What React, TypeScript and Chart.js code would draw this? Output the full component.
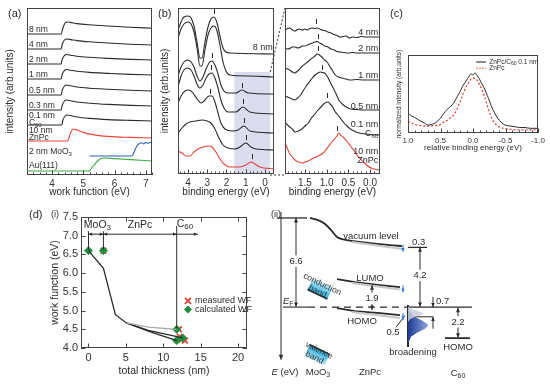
import React, { useEffect, useRef } from "react";
import { Chart, registerables } from "chart.js";

Chart.register(...registerables);

type Pt = [number, number];
const FONT = "'Liberation Sans', Arial, Helvetica, sans-serif";
const INK = "#2b2b2b";
const RED = "#e4433a";
const BLUE = "#2f5fb3";
const GREEN = "#3aa845";
const DGREEN = "#1d8f3c";

// ---------------- (a) secondary electron cut-off ----------------
const aTicks = [4, 5, 6, 7];
const aC60_8nm: Pt[] = [[3.2,141],[4.3,141],[4.34,146],[4.4,151],[4.47,153],[4.58,152.6],[4.8,151.4],[5.2,150.2],[5.8,149],[6.5,147.8],[7.2,146.8]];
const aC60_4nm: Pt[] = [[3.2,126],[4.29,126],[4.33,131],[4.4,135],[4.47,136],[4.6,135.4],[4.8,134.4],[5.2,133.2],[5.8,132],[6.5,130.8],[7.2,130]];
const aC60_2nm: Pt[] = [[3.2,111],[4.29,111],[4.33,116],[4.4,119.5],[4.46,120.5],[4.6,119.8],[4.8,118.8],[5.2,117.7],[5.8,116.6],[6.5,115.6],[7.2,115]];
const aC60_1nm: Pt[] = [[3.2,96],[4.29,96],[4.33,101],[4.4,104.5],[4.46,105.5],[4.6,104.8],[4.8,103.8],[5.2,102.6],[5.8,101.6],[6.5,100.6],[7.2,100]];
const aC60_05nm: Pt[] = [[3.2,80],[4.29,80],[4.33,85],[4.4,89],[4.46,90],[4.6,89.2],[4.8,88],[5.2,86.8],[5.8,85.8],[6.5,84.8],[7.2,84]];
const aC60_03nm: Pt[] = [[3.2,65],[4.29,65],[4.33,70],[4.4,74],[4.46,75],[4.6,74.2],[4.8,73],[5.2,71.8],[5.8,70.6],[6.5,69.6],[7.2,69]];
const aC60_01nm: Pt[] = [[3.2,50],[4.31,50],[4.35,55],[4.42,59],[4.48,60],[4.62,59.2],[4.8,58],[5.2,56.6],[5.8,55.4],[6.5,54.6],[7.2,54]];
const aZnPc: Pt[] = [[3.2,34],[4.5,34],[4.55,38],[4.62,44],[4.7,46],[4.8,45],[5.0,42.6],[5.3,40.4],[5.8,38.6],[6.5,37.6],[7.2,37]];
const aMoO3: Pt[] = [[5.2,19],[6.55,19],[6.6,21],[6.66,25.5],[6.73,29.5],[6.8,31.5],[6.87,32.2],[6.94,31],[7.0,32.8],[7.07,31.6],[7.13,32.8],[7.2,32.2]];
const aAu: Pt[] = [[3.2,4],[5.2,4],[5.26,6.5],[5.36,10.5],[5.46,14],[5.56,16.4],[5.66,17],[6.0,16.4],[6.5,15.4],[7.2,14]];

// ---------------- (b) valence band spectra ----------------
const bTicks = [4, 3, 2, 1, 0];
const b8nm: Pt[] = [[4.52,144],[4.36,152],[4.21,157],[4.0,158],[3.84,156],[3.69,148],[3.53,132],[3.38,116],[3.27,116],[3.12,132],[2.96,147],[2.81,155],[2.65,157],[2.49,151],[2.34,138],[2.18,126],[2.03,122],[1.82,121],[-0.47,120]];
const b4nm: Pt[] = [[4.52,136],[4.36,145],[4.21,150],[4.0,152],[3.84,150],[3.69,142],[3.53,126],[3.38,108],[3.27,108],[3.12,124],[2.96,139],[2.81,146],[2.65,148],[2.49,143],[2.34,129],[2.18,112],[2.03,103],[1.82,99],[0.78,98],[-0.47,97]];
const b2nm: Pt[] = [[4.52,98],[4.36,107],[4.21,112],[4.0,114],[3.84,112],[3.69,107],[3.53,98],[3.38,93],[3.22,97],[3.06,105],[2.91,111],[2.75,113],[2.6,109],[2.44,100],[2.29,89],[2.13,83],[1.92,81],[1.51,81],[1.19,84],[0.88,81],[-0.47,80]];
const b1nm: Pt[] = [[4.52,87],[4.36,98],[4.21,104],[4.0,106],[3.84,104],[3.69,98],[3.53,90],[3.38,86],[3.22,89],[3.06,96],[2.91,100],[2.75,101],[2.6,96],[2.44,86],[2.29,74],[2.13,66],[1.92,62],[1.51,62],[1.14,67],[0.78,62],[-0.47,60]];
const b05nm: Pt[] = [[4.52,71],[4.36,78],[4.16,83],[3.95,84],[3.74,81],[3.53,75],[3.32,71],[3.12,74],[2.91,78],[2.75,78],[2.6,72],[2.44,61],[2.29,51],[2.08,45],[1.71,43],[1.4,44],[1.09,48],[0.78,43],[-0.47,41]];
const b01nm: Pt[] = [[4.52,41],[4.31,46],[4.1,50],[3.9,52],[3.58,53],[3.27,54],[3.01,53],[2.81,51],[2.6,45],[2.39,36],[2.18,29],[1.92,26],[1.56,25],[1.3,27],[0.99,31],[0.73,27],[0.47,25],[-0.47,24]];
const bZnPc: Pt[] = [[4.52,23],[4.31,21],[4.1,18],[3.9,18],[3.69,22],[3.48,25],[3.22,27],[2.96,28],[2.75,27],[2.55,22],[2.34,15],[2.13,10],[1.82,7],[1.3,7],[0.99,9],[0.73,12],[0.52,10],[0.26,7],[-0.47,5]];
const bMarksHigh: Pt[] = [[2.65,160],[2.75,116],[2.8,104],[2.85,80]];
const bMarksLow: Pt[] = [[1.19,86],[1.14,70],[1.09,51],[0.99,34],[0.68,15]];
const bShade = { from: 1.6, to: -0.27, top: 102 };

const brTicks = [1.5, 1.0, 0.5, 0.0];
const br4nm: Pt[] = [[1.96,144],[1.9,145.5],[1.85,146],[1.79,144],[1.73,143],[1.67,144.5],[1.62,145],[1.56,144],[1.5,145],[1.44,144],[1.39,145.5],[1.33,146],[1.27,145.5],[1.22,146],[1.16,145],[1.11,144],[1.05,143.5],[0.97,142],[0.9,141],[0.83,139.5],[0.76,138.5],[0.69,137],[0.62,137.5],[0.55,138],[0.48,136],[0.4,137],[0.3,136.5],[0.2,137.5],[0.1,137],[0,137],[-0.1,137],[-0.23,137]];
const br2nm: Pt[] = [[1.96,126],[1.9,125],[1.85,125.5],[1.79,127],[1.73,127],[1.67,126],[1.62,126.5],[1.56,128],[1.5,128],[1.44,129],[1.39,130],[1.33,131],[1.27,132],[1.22,132.5],[1.16,131],[1.11,130],[1.05,128],[0.97,127],[0.9,125],[0.83,124],[0.76,122.5],[0.69,122],[0.6,121.5],[0.5,121],[0.4,121.5],[0.3,121],[0.2,121],[0,121],[-0.23,121]];
const br1nm: Pt[] = [[1.96,106],[1.9,105],[1.85,104],[1.79,102],[1.73,101],[1.67,103],[1.62,105],[1.56,108],[1.5,110],[1.44,112],[1.39,114],[1.33,116],[1.27,118],[1.22,120],[1.17,119],[1.11,117],[1.05,114],[0.99,112],[0.92,107],[0.86,103],[0.8,99],[0.73,97],[0.65,96],[0.55,95],[0.45,94],[0.3,94.5],[0.15,94],[0,94],[-0.23,94]];
const br05nm: Pt[] = [[1.96,78],[1.9,77],[1.85,76],[1.79,75],[1.73,74],[1.67,76],[1.6,79],[1.53,84],[1.47,88],[1.4,92],[1.33,96],[1.27,99],[1.2,101],[1.15,102],[1.1,101.5],[1.05,101],[0.99,98],[0.92,92],[0.85,86],[0.78,80],[0.72,74],[0.64,70],[0.55,67],[0.45,65],[0.3,64.5],[0.15,64],[0,64],[-0.23,64]];
const br01nm: Pt[] = [[1.96,52],[1.9,49],[1.85,47],[1.79,45],[1.73,42],[1.65,43],[1.57,45],[1.5,48],[1.42,51],[1.35,56],[1.27,60],[1.2,64],[1.13,67],[1.07,70],[1.02,71.5],[0.97,72],[0.92,70],[0.86,67],[0.8,62],[0.74,59],[0.67,55],[0.6,51],[0.53,48],[0.45,45],[0.37,43],[0.25,41],[0.1,40],[0,39.5],[-0.23,39]];
const brZnPc: Pt[] = [[1.96,32],[1.9,25],[1.85,20],[1.79,17],[1.73,14],[1.65,12],[1.57,11],[1.5,12],[1.42,13],[1.34,15],[1.25,17],[1.15,19],[1.08,21],[1.02,24],[0.95,28],[0.88,32],[0.82,35],[0.76,38],[0.73,41],[0.68,39],[0.6,36],[0.52,32],[0.45,28],[0.38,24],[0.3,19],[0.22,15],[0.13,11],[0.05,8],[-0.05,5.5],[-0.13,4.5],[-0.23,4]];
const brMarks: Pt[] = [[1.24,150],[1.2,135],[1.2,123],[1.11,104],[0.99,76],[0.76,43]];

// ---------------- (c) normalized HOMO ----------------
const cTicks = [1.0, 0.5, 0.0, -0.5, -1.0];
const cBlend: Pt[] = [[1.0,0.26],[0.95,0.22],[0.9,0.2],[0.84,0.17],[0.8,0.15],[0.75,0.13],[0.69,0.1],[0.64,0.11],[0.6,0.12],[0.55,0.15],[0.5,0.19],[0.45,0.25],[0.4,0.3],[0.36,0.33],[0.32,0.36],[0.28,0.41],[0.24,0.47],[0.2,0.53],[0.16,0.6],[0.12,0.65],[0.08,0.7],[0.05,0.74],[0.03,0.76],[0.0,0.74],[-0.03,0.77],[-0.06,0.74],[-0.1,0.69],[-0.13,0.64],[-0.17,0.58],[-0.2,0.52],[-0.24,0.44],[-0.28,0.35],[-0.33,0.26],[-0.38,0.19],[-0.43,0.14],[-0.5,0.1],[-0.57,0.09],[-0.65,0.08],[-0.72,0.07],[-0.8,0.07],[-0.88,0.06],[-1.0,0.06]];
const cZnPc: Pt[] = [[1.0,0.15],[0.9,0.11],[0.84,0.1],[0.75,0.09],[0.69,0.09],[0.6,0.095],[0.53,0.1],[0.45,0.14],[0.4,0.16],[0.34,0.2],[0.3,0.23],[0.25,0.3],[0.22,0.36],[0.18,0.44],[0.14,0.53],[0.1,0.6],[0.06,0.66],[0.02,0.7],[0.0,0.705],[-0.03,0.7],[-0.07,0.67],[-0.1,0.62],[-0.13,0.57],[-0.17,0.48],[-0.2,0.41],[-0.25,0.27],[-0.3,0.17],[-0.35,0.11],[-0.41,0.075],[-0.5,0.055],[-0.6,0.045],[-0.8,0.04],[-1.0,0.04]];

// ---------------- (d)(i) work function vs thickness ----------------
const dxTicks = [0, 5, 10, 15, 20];
const dyTicks = [4.0, 4.5, 5.0, 5.5, 6.0, 6.5, 7.0, 7.5];
const calcPathMain: Pt[] = [[0,6.6],[2,6.13],[3.6,4.89],[5.07,4.67],[8,4.45],[11.8,4.2]];
const calcPathB: Pt[] = [[5.07,4.67],[8,4.47],[12.6,4.27]];
const calcPathC: Pt[] = [[5.07,4.67],[8,4.56],[11.8,4.5]];
const calcWF: Pt[] = [[0,6.6],[2,6.6],[11.8,4.5],[11.8,4.2],[12.6,4.27]];
const measWF: Pt[] = [[2,6.6],[12.1,4.5],[12.2,4.3],[12.4,4.22],[12.9,4.2]];

// ---------------- (d)(ii) energy level diagram (position, eV) ----------------
const vacMoO3: Pt[] = [[277,6.6],[307,6.6]];
const vacZnPc: Pt[] = [[310,6.6],[318,6.44],[325,6.15],[332,5.63],[337,5.19],[342,5.04],[353,4.89],[370,4.74],[390,4.59],[402,4.52]];
const lumoZnPc: Pt[] = [[337,2.07],[355,1.85],[380,1.63],[400,1.48]];
const homoZnPc: Pt[] = [[337,-0.07],[355,-0.3],[380,-0.44],[400,-0.59]];
const vacShadow: Pt[] = [[352,4.82],[402,4.3]];
const lumoShadow: Pt[] = [[352,1.78],[400,1.3]];
const homoShadow: Pt[] = [[352,-0.36],[400,-0.8]];
const fermiSolidL: Pt[] = [[283,0],[308,0]];
const fermiDash: Pt[] = [[308,0],[405,0]];
const fermiSolidR: Pt[] = [[405,0],[472,0]];
const vacC60: Pt[] = [[408,4.42],[427,4.42]];
const homoC60: Pt[] = [[445,-2.3],[470,-2.3]];
const onsetC60: Pt[] = [[408,-0.72],[433,-0.72]];
const dosAxis: Pt[] = [[408,0.15],[408,-2.95]];
const dosBroad: Pt[] = [[0.1,0],[-0.3,0.08],[-0.7,0.3],[-1.0,0.7],[-1.25,0.97],[-1.4,1.0],[-1.6,0.85],[-1.9,0.45],[-2.2,0.15],[-2.6,0.03],[-2.9,0]];
const dosSharp: Pt[] = [[0.05,0],[-0.15,0.2],[-0.3,0.6],[-0.45,0.9],[-0.55,0.85],[-0.7,0.45],[-0.9,0.12],[-1.1,0]];

// ---------------- helpers ----------------
const P = (a: Pt[]) => a.map(([x, y]) => ({ x, y }));
function line(data: Pt[], color: string, width = 1.1, extra: any = {}) {
  return { data: P(data), borderColor: color, backgroundColor: color, borderWidth: width, pointRadius: 0, showLine: true, fill: false, cubicInterpolationMode: "monotone", ...extra };
}
function straight(data: Pt[], color: string, width = 1.6, extra: any = {}) {
  return { data: P(data), borderColor: color, backgroundColor: color, borderWidth: width, pointRadius: 0, showLine: true, fill: false, tension: 0, ...extra };
}
function tx(ctx: any, s: string, x: number, y: number, size = 9, align: any = "left", color = INK, opts: any = {}) {
  ctx.save();
  ctx.font = `${opts.italic ? "italic " : ""}${size}px ${FONT}`;
  ctx.textAlign = align;
  ctx.textBaseline = "middle";
  if (opts.bg) {
    const w = ctx.measureText(s).width;
    const x0 = align === "center" ? x - w / 2 : align === "right" ? x - w : x;
    ctx.fillStyle = "#fff";
    ctx.fillRect(x0 - 1, y - size / 2 - 1, w + 2, size + 2);
  }
  ctx.fillStyle = color;
  ctx.fillText(s, x, y);
  ctx.restore();
}
function rich(ctx: any, segs: any[], x: number, y: number, size: number, align = "left", color = INK) {
  ctx.save();
  ctx.textBaseline = "middle";
  ctx.textAlign = "left";
  ctx.fillStyle = color;
  const f = (sg: any) => `${sg[2] ? "italic " : ""}${sg[1] ? Math.round(size * 0.72) : size}px ${FONT}`;
  let w = 0;
  segs.forEach((sg) => { ctx.font = f(sg); w += ctx.measureText(sg[0]).width; });
  let cx = align === "center" ? x - w / 2 : align === "right" ? x - w : x;
  segs.forEach((sg) => { ctx.font = f(sg); ctx.fillText(sg[0], cx, y + (sg[1] ? size * 0.3 : 0)); cx += ctx.measureText(sg[0]).width; });
  ctx.restore();
}
function seg(ctx: any, x1: number, y1: number, x2: number, y2: number) {
  ctx.beginPath(); ctx.moveTo(x1, y1); ctx.lineTo(x2, y2); ctx.stroke();
}
function head(ctx: any, x: number, y: number, dir: string, s = 2.6) {
  const a = s * 0.75, b = s * 1.7;
  ctx.beginPath();
  if (dir === "down") { ctx.moveTo(x, y); ctx.lineTo(x - a, y - b); ctx.lineTo(x + a, y - b); }
  else if (dir === "up") { ctx.moveTo(x, y); ctx.lineTo(x - a, y + b); ctx.lineTo(x + a, y + b); }
  else if (dir === "right") { ctx.moveTo(x, y); ctx.lineTo(x - b, y - a); ctx.lineTo(x - b, y + a); }
  else { ctx.moveTo(x, y); ctx.lineTo(x + b, y - a); ctx.lineTo(x + b, y + a); }
  ctx.closePath(); ctx.fill();
}
function vArrow(ctx: any, x: number, yTop: number, yBot: number, top = true, bot = true, s = 2.6) {
  seg(ctx, x, yTop, x, yBot);
  if (top) head(ctx, x, yTop, "up", s);
  if (bot) head(ctx, x, yBot, "down", s);
}
function hArrow(ctx: any, x1: number, x2: number, y: number, left = true, right = true, s = 2.4) {
  seg(ctx, x1, y, x2, y);
  if (left) head(ctx, x1, y, "left", s);
  if (right) head(ctx, x2, y, "right", s);
}

function frame(o: any) {
  return {
    id: "frameTicks",
    afterDatasetsDraw(chart: any) {
      const { ctx, chartArea: a, scales } = chart;
      ctx.save();
      ctx.strokeStyle = "#444";
      ctx.lineWidth = 1;
      ctx.strokeRect(a.left + 0.5, a.top + 0.5, a.width - 1, a.height - 1);
      const xs = scales.x;
      const lo = Math.min(xs.min, xs.max), hi = Math.max(xs.min, xs.max);
      if (o.xMinor) {
        for (let v = Math.ceil(lo / o.xMinor - 1e-9) * o.xMinor; v <= hi + 1e-9; v += o.xMinor) {
          const p = Math.round(xs.getPixelForValue(v)) + 0.5;
          seg(ctx, p, a.bottom, p, a.bottom - 2.5);
        }
      }
      (o.xMajor || []).forEach((v: number) => {
        const p = Math.round(xs.getPixelForValue(v)) + 0.5;
        seg(ctx, p, a.bottom, p, a.bottom - 4.5);
        if (o.top) seg(ctx, p, a.top, p, a.top + 4.5);
      });
      (o.yMajor || []).forEach((v: number) => {
        const p = Math.round(scales.y.getPixelForValue(v)) + 0.5;
        seg(ctx, a.left, p, a.left + 4.5, p);
        if (o.right) seg(ctx, a.right, p, a.right - 4.5, p);
      });
      ctx.restore();
    },
  };
}
function decor(id: string, after: (c: any, X: any, Y: any) => void, before?: (c: any, X: any, Y: any) => void) {
  const xy = (chart: any) => [(v: number) => chart.scales.x.getPixelForValue(v), (v: number) => chart.scales.y.getPixelForValue(v)];
  return {
    id,
    beforeDatasetsDraw(chart: any) {
      if (!before) return;
      const [X, Y] = xy(chart);
      chart.ctx.save(); before(chart, X, Y); chart.ctx.restore();
    },
    afterDraw(chart: any) {
      const [X, Y] = xy(chart);
      chart.ctx.save(); after(chart, X, Y); chart.ctx.restore();
    },
  };
}
function xAxis(min: number, max: number, ticks: number[], o: any) {
  return {
    type: "linear", min, max, reverse: !!o.reverse, position: "bottom",
    afterBuildTicks: (s: any) => { s.ticks = ticks.map((v) => ({ value: v })); },
    afterFit: (s: any) => { s.height = o.height; },
    grid: { display: false, drawTicks: false },
    border: { display: false },
    ticks: { autoSkip: false, maxRotation: 0, padding: o.pad, color: "#333", font: { family: FONT, size: o.size }, callback: o.fmt || ((v: any) => String(v)) },
    title: { display: true, text: o.title, color: INK, font: { family: FONT, size: o.tSize }, padding: { top: 0, bottom: o.tPad } },
  };
}
function yAxis(min: number, max: number, o: any) {
  const ax: any = {
    type: "linear", min, max, position: "left",
    afterFit: (s: any) => { s.width = o.width; },
    grid: { display: false, drawTicks: false },
    border: { display: false },
    ticks: { display: false },
    title: { display: !!o.title, text: o.title, color: INK, font: { family: FONT, size: o.tSize }, padding: { top: o.tPad, bottom: 0 } },
  };
  if (o.ticks) {
    ax.afterBuildTicks = (s: any) => { s.ticks = o.ticks.map((v: number) => ({ value: v })); };
    ax.ticks = { display: true, autoSkip: false, padding: o.pad, color: "#333", font: { family: FONT, size: o.size }, callback: o.fmt };
  }
  return ax;
}
function base(padding: any, scales: any) {
  return {
    animation: false, responsive: false, maintainAspectRatio: false, devicePixelRatio: 1, events: [],
    layout: { padding },
    plugins: { legend: { display: false }, tooltip: { enabled: false } },
    scales,
  };
}
const markStroke = (ctx: any, X: any, Y: any, marks: Pt[]) => {
  ctx.strokeStyle = INK; ctx.lineWidth = 1;
  marks.forEach(([e, y]) => seg(ctx, Math.round(X(e)) + 0.5, Y(y), Math.round(X(e)) + 0.5, Y(y) - 5));
};

// ---------------- chart configs ----------------
function cfgA() {
  const labels = (c: any, X: any, Y: any) => {
    const ctx = c.ctx, s = 8.5, x = X(3.26);
    tx(ctx, "8 nm", x, Y(145), s); tx(ctx, "4 nm", x, Y(130), s); tx(ctx, "2 nm", x, Y(115), s);
    tx(ctx, "1 nm", x, Y(100), s); tx(ctx, "0.5 nm", x, Y(84), s); tx(ctx, "0.3 nm", x, Y(69), s);
    tx(ctx, "0.1 nm", x, Y(59), s); rich(ctx, [["C", 0], ["60", 1]], x, Y(52.5), s);
    tx(ctx, "10 nm", x, Y(44), s); tx(ctx, "ZnPc", x, Y(37.5), s);
    rich(ctx, [["2 nm MoO", 0], ["3", 1]], x, Y(23), s);
    tx(ctx, "Au(111)", x, Y(9.5), s);
  };
  return {
    type: "scatter",
    data: { datasets: [
      line(aC60_8nm, INK), line(aC60_4nm, INK), line(aC60_2nm, INK), line(aC60_1nm, INK),
      line(aC60_05nm, INK), line(aC60_03nm, INK), line(aC60_01nm, INK),
      line(aZnPc, RED), line(aMoO3, BLUE), line(aAu, GREEN),
    ] },
    options: base({ left: 0, top: 8, right: 8, bottom: 0 }, {
      x: xAxis(3.2, 7.2, aTicks, { height: 25, pad: 3, size: 10, title: "work function (eV)", tSize: 10, tPad: 2 }),
      y: yAxis(0, 167, { width: 27, title: "intensity (arb.units)", tSize: 10, tPad: 4 }),
    }),
    plugins: [frame({ xMinor: 0.2, xMajor: aTicks }), decor("aLab", labels)],
  };
}
function cfgB() {
  const before = (c: any, X: any, Y: any) => {
    const ctx = c.ctx;
    ctx.fillStyle = "rgba(196,196,228,0.6)";
    ctx.fillRect(X(bShade.from), Y(bShade.top), X(bShade.to) - X(bShade.from), c.chartArea.bottom - Y(bShade.top));
  };
  const after = (c: any, X: any, Y: any) => {
    const ctx = c.ctx, a = c.chartArea;
    markStroke(ctx, X, Y, bMarksHigh);
    markStroke(ctx, X, Y, bMarksLow);
    tx(ctx, "8 nm", X(-0.4), Y(126), 9, "right");
    ctx.strokeStyle = "#333"; ctx.lineWidth = 1; ctx.setLineDash([2, 2]);
    seg(ctx, X(bShade.to), Y(bShade.top), c.width, a.top);
    seg(ctx, X(bShade.to), a.bottom + 1, c.width, a.bottom + 1);
  };
  return {
    type: "scatter",
    data: { datasets: [
      line(b8nm, INK), line(b4nm, INK), line(b2nm, INK), line(b1nm, INK), line(b05nm, INK), line(b01nm, INK), line(bZnPc, RED),
    ] },
    options: base({ left: 0, top: 8, right: 11, bottom: 0 }, {
      x: xAxis(-0.47, 4.52, bTicks, { reverse: true, height: 26, pad: 3, size: 10, title: "binding energy (eV)", tSize: 10, tPad: 2 }),
      y: yAxis(0, 166, { width: 23, title: "intensity (arb.units)", tSize: 10, tPad: 4 }),
    }),
    plugins: [frame({ xMinor: 0.2, xMajor: bTicks }), decor("bLab", after, before)],
  };
}
function cfgBR() {
  const after = (c: any, X: any, Y: any) => {
    const ctx = c.ctx, s = 9, x = X(-0.19);
    markStroke(ctx, X, Y, brMarks);
    tx(ctx, "4 nm", x, Y(141.5), s, "right"); tx(ctx, "2 nm", x, Y(125), s, "right");
    tx(ctx, "1 nm", x, Y(98.5), s, "right"); tx(ctx, "0.5 nm", x, Y(67.5), s, "right");
    tx(ctx, "0.1 nm", x, Y(49), s, "right"); rich(ctx, [["C", 0], ["60", 1]], x, Y(40), s, "right");
    tx(ctx, "10 nm", x, Y(22), s, "right"); tx(ctx, "ZnPc", x, Y(13.5), s, "right");
  };
  return {
    type: "scatter",
    data: { datasets: [line(br4nm, INK), line(br2nm, INK), line(br1nm, INK), line(br05nm, INK), line(br01nm, INK), line(brZnPc, RED)] },
    options: base({ left: 5, top: 8, right: 5, bottom: 0 }, {
      x: xAxis(-0.23, 1.96, brTicks, { reverse: true, height: 26, pad: 3, size: 10, title: "binding energy (eV)", tSize: 10, tPad: 2, fmt: (v: any) => Number(v).toFixed(1) }),
      y: { type: "linear", min: 0, max: 166, display: false },
    }),
    plugins: [frame({ xMinor: 0.1, xMajor: brTicks }), decor("brLab", after)],
  };
}
function cfgC() {
  const after = (c: any, X: any, Y: any) => {
    const ctx = c.ctx;
    ctx.lineWidth = 1.1; ctx.strokeStyle = INK;
    seg(ctx, X(-0.05), Y(0.91), X(-0.2), Y(0.91));
    rich(ctx, [["ZnPc/C", 0], ["60", 1], [" 0.1 nm", 0]], X(-0.25), Y(0.91), 6.5);
    ctx.strokeStyle = RED; ctx.setLineDash([1.5, 1.5]);
    seg(ctx, X(-0.05), Y(0.83), X(-0.2), Y(0.83));
    tx(ctx, "ZnPc", X(-0.25), Y(0.83), 6.5);
  };
  return {
    type: "scatter",
    data: { datasets: [line(cBlend, INK, 1), line(cZnPc, RED, 1.3, { borderDash: [2, 2] })] },
    options: base({ left: 0, top: 15, right: 12, bottom: 0 }, {
      x: xAxis(-1, 1, cTicks, { reverse: true, height: 22, pad: 3, size: 8, title: "relative binding energy (eV)", tSize: 8, tPad: 2, fmt: (v: any) => Number(v).toFixed(1) }),
      y: yAxis(0, 1, { width: 20, title: "normalized intensity (arb.units)", tSize: 6.5, tPad: 7 }),
    }),
    plugins: [frame({ xMinor: 0.1, xMajor: cTicks }), decor("cLab", after)],
  };
}
function cfgDI() {
  const after = (c: any, X: any, Y: any) => {
    const ctx = c.ctx;
    rich(ctx, [["MoO", 0], ["3", 1]], X(1.2), Y(7.29), 10.5, "center");
    tx(ctx, "ZnPc", X(6.9), Y(7.29), 10.5, "center");
    rich(ctx, [["C", 0], ["60", 1]], X(12.9), Y(7.32), 10.5, "center");
    ctx.strokeStyle = INK; ctx.fillStyle = INK; ctx.lineWidth = 1;
    seg(ctx, X(0), Y(7.12), X(0), Y(6.63));
    seg(ctx, X(2), Y(7.12), X(2), Y(6.63));
    seg(ctx, X(11.8), Y(7.26), X(11.8), Y(4.52));
    hArrow(ctx, X(0), X(2), Y(7.04), true, true, 2.2);
    hArrow(ctx, X(2), X(11.8), Y(7.04), true, true, 2.2);
    hArrow(ctx, X(11.8), X(14.6), Y(7.04), false, true, 2.2);
    // legend
    const lx = X(13.3), y1 = Y(5.26), y2 = Y(5.03);
    ctx.strokeStyle = RED; ctx.lineWidth = 1.8;
    seg(ctx, lx - 3, y1 - 3, lx + 3, y1 + 3); seg(ctx, lx - 3, y1 + 3, lx + 3, y1 - 3);
    ctx.fillStyle = DGREEN;
    ctx.beginPath(); ctx.moveTo(lx, y2 - 4); ctx.lineTo(lx + 4, y2); ctx.lineTo(lx, y2 + 4); ctx.lineTo(lx - 4, y2); ctx.closePath(); ctx.fill();
    tx(ctx, "measured WF", lx + 7, y1, 9);
    tx(ctx, "calculated WF", lx + 7, y2, 9);
  };
  return {
    type: "scatter",
    data: { datasets: [
      straight(calcPathC, "#a8a8a8", 1.2),
      straight(calcPathB, INK, 1.2),
      straight(calcPathMain, INK, 1.3),
      { data: P(calcWF), pointStyle: "rectRot", pointRadius: 4, backgroundColor: DGREEN, borderColor: DGREEN, borderWidth: 1, showLine: false },
      { data: P(measWF), pointStyle: "crossRot", pointRadius: 4, borderColor: RED, borderWidth: 1.8, showLine: false },
    ] },
    options: base({ left: 0, top: 17, right: 13, bottom: 0 }, {
      x: xAxis(-1, 21.2, dxTicks, { height: 37, pad: 3, size: 11, title: "total thickness (nm)", tSize: 10.5, tPad: 8 }),
      y: yAxis(4.0, 7.5, { width: 51, ticks: dyTicks, pad: 3, size: 11, fmt: (v: any) => Number(v).toFixed(1), title: "work function (eV)", tSize: 10.5, tPad: 19 }),
    }),
    plugins: [frame({ xMajor: dxTicks, yMajor: dyTicks, top: true, right: true }), decor("diLab", after)],
  };
}
function cfgDII() {
  const after = (c: any, X: any, Y: any) => {
    const ctx = c.ctx;
    ctx.strokeStyle = INK; ctx.fillStyle = INK; ctx.lineWidth = 1;
    // energy axis
    seg(ctx, X(281), Y(7.05), X(281), Y(-3.9)); head(ctx, X(281), Y(-3.9), "down", 3);
    // gaussians (DOS broadening)
    const g = ctx.createLinearGradient(X(408), 0, X(428), 0);
    g.addColorStop(0, "#1d3a94"); g.addColorStop(1, "#8ea4de");
    ctx.fillStyle = g;
    ctx.beginPath(); ctx.moveTo(X(408), Y(dosBroad[0][0]));
    dosBroad.forEach(([e, i]) => ctx.lineTo(X(408 + i * 20), Y(e)));
    ctx.closePath(); ctx.fill();
    ctx.fillStyle = "rgba(200,205,220,0.85)";
    ctx.beginPath(); ctx.moveTo(X(408), Y(dosSharp[0][0]));
    dosSharp.forEach(([e, i]) => ctx.lineTo(X(408 + i * 17), Y(e)));
    ctx.closePath(); ctx.fill();
    ctx.fillStyle = INK;
    // arrows
    vArrow(ctx, X(296), Y(6.6), Y(0.02));
    vArrow(ctx, X(420), Y(4.42), Y(0.02));
    vArrow(ctx, X(372), Y(1.62), Y(-0.22));
    vArrow(ctx, X(458), Y(-0.05), Y(-2.27));
    seg(ctx, X(433), Y(0.75), X(433), Y(0)); head(ctx, X(433), Y(0), "down", 2.4);
    seg(ctx, X(433), Y(-1.6), X(433), Y(-0.72)); head(ctx, X(433), Y(-0.72), "up", 2.4);
    seg(ctx, X(396), Y(-1.5), X(405), Y(-0.62));
    ctx.fillStyle = "#2f7ad0"; ctx.strokeStyle = "#2f7ad0";
    [[4.62, 4.1], [1.62, 1.1], [-0.44, -0.96]].forEach(([a, b]) => { seg(ctx, X(403), Y(a), X(403), Y(b)); head(ctx, X(403), Y(b), "down", 2.2); });
    // MoO3 bands
    const band = (cx: number, cy: number, lineTop: boolean, t1: string, t2: string) => {
      ctx.save();
      ctx.translate(X(cx), Y(cy));
      ctx.rotate(0.45);
      const bg = ctx.createLinearGradient(0, -7, 0, 7);
      bg.addColorStop(0, lineTop ? "#1aa7dc" : "#bfe9f8"); bg.addColorStop(1, lineTop ? "#bfe9f8" : "#1aa7dc");
      ctx.fillStyle = bg; ctx.fillRect(-11, -6, 22, 12);
      ctx.strokeStyle = INK; ctx.lineWidth = 1.6;
      seg(ctx, -11, lineTop ? -6 : 6, 11, lineTop ? -6 : 6);
      ctx.restore();
      ctx.save();
      ctx.translate(X(cx), Y(cy));
      ctx.rotate(0.45);
      tx(ctx, t1, 0, -5, 8.5, "center", "#333");
      tx(ctx, t2, -1, 3.5, 8.5, "center", "#333");
      ctx.restore();
    };
    band(320, 1.35, false, "conduction", "band");
    band(317, -3.55, true, "valence", "band");
    // texts
    const s = 9.5;
    tx(ctx, "6.6", X(296), Y(3.4), s, "center", INK, { bg: true });
    tx(ctx, "4.2", X(420), Y(2.35), s, "center", INK, { bg: true });
    tx(ctx, "1.9", X(372), Y(0.65), s, "center", INK, { bg: true });
    tx(ctx, "2.2", X(458), Y(-1.1), s, "center", INK, { bg: true });
    tx(ctx, "0.7", X(436), Y(0.45), s, "left");
    tx(ctx, "0.3", X(412), Y(4.8), s, "left");
    tx(ctx, "0.5", X(393), Y(-1.9), s, "center");
    tx(ctx, "vacuum level", X(371), Y(5.2), s, "center");
    tx(ctx, "LUMO", X(370), Y(2.1), s, "center");
    tx(ctx, "HOMO", X(362), Y(-1.05), s, "center");
    tx(ctx, "HOMO", X(458), Y(-2.95), s, "center");
    tx(ctx, "broadening", X(413), Y(-3.35), s, "center");
    rich(ctx, [["E", 0, true], ["F", 1]], X(283), Y(0.45), 9.5);
    rich(ctx, [["E", 0, true], [" (eV)", 0]], X(285), Y(-4.85), s, "center");
    rich(ctx, [["MoO", 0], ["3", 1]], X(318), Y(-4.85), s, "center");
    tx(ctx, "ZnPc", X(370), Y(-4.85), s, "center");
    rich(ctx, [["C", 0], ["60", 1]], X(458), Y(-4.9), s, "center");
  };
  return {
    type: "scatter",
    data: { datasets: [
      straight(vacShadow, "#c8c8c8", 2), straight(lumoShadow, "#c8c8c8", 2), straight(homoShadow, "#c8c8c8", 2),
      straight(vacMoO3, INK, 1.3), straight(vacZnPc, INK, 1.8, { tension: 0.3 }),
      straight(lumoZnPc, INK, 1.8), straight(homoZnPc, INK, 1.8),
      straight(fermiSolidL, INK, 1.1), straight(fermiDash, INK, 1.1, { borderDash: [7, 5] }), straight(fermiSolidR, INK, 1.1),
      straight(vacC60, INK, 1.3), straight(homoC60, INK, 1.8), straight(onsetC60, INK, 1),
      straight(dosAxis, INK, 2),
    ] },
    options: base({ left: 0, top: 0, right: 0, bottom: 0 }, {
      x: { type: "linear", min: 265, max: 550, display: false },
      y: { type: "linear", min: -5.77, max: 7.93, display: false },
    }),
    plugins: [decor("diiLab", after)],
  };
}

const PANELS = [
  { key: "a", left: 0, top: 0, w: 160, h: 200, cfg: cfgA },
  { key: "b", left: 155, top: 0, w: 130, h: 200, cfg: cfgB },
  { key: "br", left: 280, top: 0, w: 105, h: 200, cfg: cfgBR },
  { key: "c", left: 388, top: 40, w: 162, h: 115, cfg: cfgC },
  { key: "di", left: 30, top: 200, w: 230, h: 185, cfg: cfgDI },
  { key: "dii", left: 265, top: 200, w: 285, h: 185, cfg: cfgDII },
];

const LETTERS = [
  { t: "(a)", x: 8, y: 13, s: 11 },
  { t: "(b)", x: 158, y: 13, s: 11 },
  { t: "(c)", x: 390, y: 13, s: 11 },
  { t: "(d)", x: 29, y: 214, s: 11 },
  { t: "(i)", x: 51, y: 214, s: 9 },
  { t: "(ii)", x: 271, y: 214, s: 9 },
];

export default function App() {
  const refs = useRef<(HTMLCanvasElement | null)[]>([]);
  useEffect(() => {
    const charts: Chart[] = [];
    PANELS.forEach((p, i) => {
      const el = refs.current[i];
      if (el) charts.push(new Chart(el, p.cfg() as any));
    });
    return () => charts.forEach((c) => c.destroy());
  }, []);
  return (
    <div style={{ position: "absolute", left: 0, top: 0, width: 550, height: 385, background: "#fff", overflow: "hidden", fontFamily: FONT }}>
      {PANELS.map((p, i) => (
        <canvas key={p.key} ref={(el) => { refs.current[i] = el; }} width={p.w} height={p.h}
          style={{ position: "absolute", left: p.left, top: p.top, width: p.w, height: p.h }} />
      ))}
      {LETTERS.map((l) => (
        <div key={l.t} style={{ position: "absolute", left: l.x, top: l.y - 7, fontSize: l.s, lineHeight: "14px", color: INK, fontFamily: FONT }}>{l.t}</div>
      ))}
    </div>
  );
}
